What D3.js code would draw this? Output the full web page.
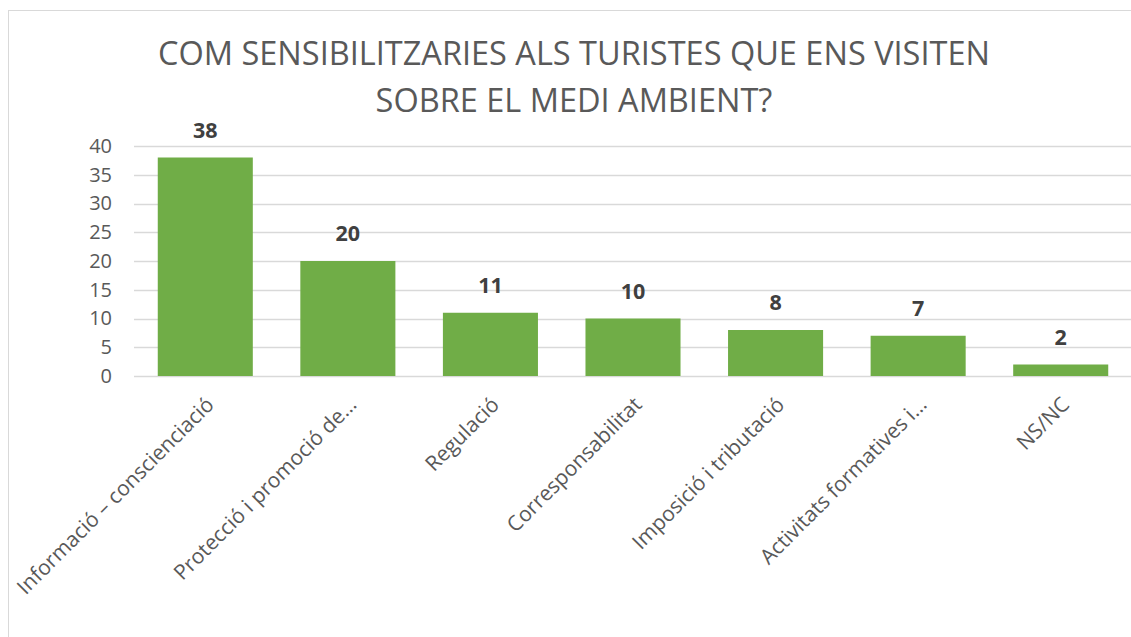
<!DOCTYPE html>
<html lang="en">
<head>
    <meta charset="utf-8">
    <title>index.html</title>
    <script type="text/javascript" src="https://cdnjs.cloudflare.com/ajax/libs/d3/7.8.5/d3.min.js"></script>
    <style>
      body { margin: 0; background: #fff; }
      text { font-family: "Open Sans", "Noto Sans", sans-serif; }
    </style>
</head>
<body>
    <script type="text/javascript">
      //chart values
      var categories = ["Informació – conscienciació", "Protecció i promoció de…", "Regulació",
                        "Corresponsabilitat", "Imposició i tributació", "Activitats formatives i…", "NS/NC"];
      var values = [38, 20, 11, 10, 8, 7, 2];
      var yTicks = [0, 5, 10, 15, 20, 25, 30, 35, 40];
      var titleLines = ["COM SENSIBILITZARIES ALS TURISTES QUE ENS VISITEN", "SOBRE EL MEDI AMBIENT?"];

      //initialize the dimensions
      var width = 1131,
          height = 637,
          margin = {top: 146, right: -1, bottom: 261, left: 134},
          plotW = width - margin.left - margin.right,
          plotH = height - margin.top - margin.bottom;

      var svg = d3.select("body")
                  .append("svg")
                  .attr("width", width)
                  .attr("height", height);

      //chart border
      svg.append("rect")
         .attr("x", 8.5)
         .attr("y", 10.5)
         .attr("width", width)
         .attr("height", height)
         .attr("fill", "none")
         .attr("stroke", "#d9d9d9");

      //title
      svg.selectAll(".title")
         .data(titleLines)
         .enter()
         .append("text")
         .attr("class", "title")
         .attr("x", 574)
         .attr("y", function(d, i) { return 65 + i * 47; })
         .attr("text-anchor", "middle")
         .attr("fill", "#595959")
         .style("font-size", "32.5px")
         .text(function(d) { return d; });

      var g = svg.append("g")
                 .attr("transform", "translate(" + margin.left + "," + margin.top + ")");

      //scales
      var xScale = d3.scaleBand()
                     .domain(categories)
                     .range([0, plotW])
                     .paddingInner(1 / 3)
                     .paddingOuter(1 / 6);

      var yScale = d3.scaleLinear()
                     .domain([0, 40])
                     .range([plotH, 0]);

      //gridlines
      g.selectAll(".grid")
       .data(yTicks)
       .enter()
       .append("line")
       .attr("class", "grid")
       .attr("x1", 0)
       .attr("x2", plotW)
       .attr("y1", function(d) { return Math.round(yScale(d)) + 0.5; })
       .attr("y2", function(d) { return Math.round(yScale(d)) + 0.5; })
       .attr("stroke", "#d9d9d9")
       .attr("stroke-width", 1.5);

      //y axis labels
      var yAxis = d3.axisLeft(yScale).tickValues(yTicks).tickSize(0).tickPadding(22);
      var yg = g.append("g").call(yAxis);
      yg.select(".domain").remove();
      yg.selectAll("text")
        .attr("fill", "#595959")
        .style("font-size", "20px");

      //bars
      g.selectAll(".bar")
       .data(values)
       .enter()
       .append("rect")
       .attr("class", "bar")
       .attr("x", function(d, i) { return xScale(categories[i]); })
       .attr("width", xScale.bandwidth())
       .attr("y", function(d) { return yScale(d); })
       .attr("height", function(d) { return plotH - yScale(d); })
       .attr("fill", "#70ad47");

      //value labels
      g.selectAll(".val")
       .data(values)
       .enter()
       .append("text")
       .attr("class", "val")
       .attr("x", function(d, i) { return xScale(categories[i]) + xScale.bandwidth() / 2; })
       .attr("y", function(d) { return yScale(d) - 20; })
       .attr("text-anchor", "middle")
       .attr("fill", "#404040")
       .style("font-size", "21.5px")
       .style("font-weight", "bold")
       .text(function(d) { return d; });

      //x axis labels, rotated
      var xAxis = d3.axisBottom(xScale).tickSize(0).tickPadding(0);
      var xg = g.append("g")
                .attr("transform", "translate(0," + plotH + ")")
                .call(xAxis);
      xg.select(".domain").remove();
      xg.selectAll("text")
        .attr("fill", "#595959")
        .style("font-size", "21px")
        .attr("text-anchor", "end")
        .attr("dy", null)
        .attr("y", 0)
        .attr("transform", "translate(10,30) rotate(-45)");
    </script>
</body>
</html>
